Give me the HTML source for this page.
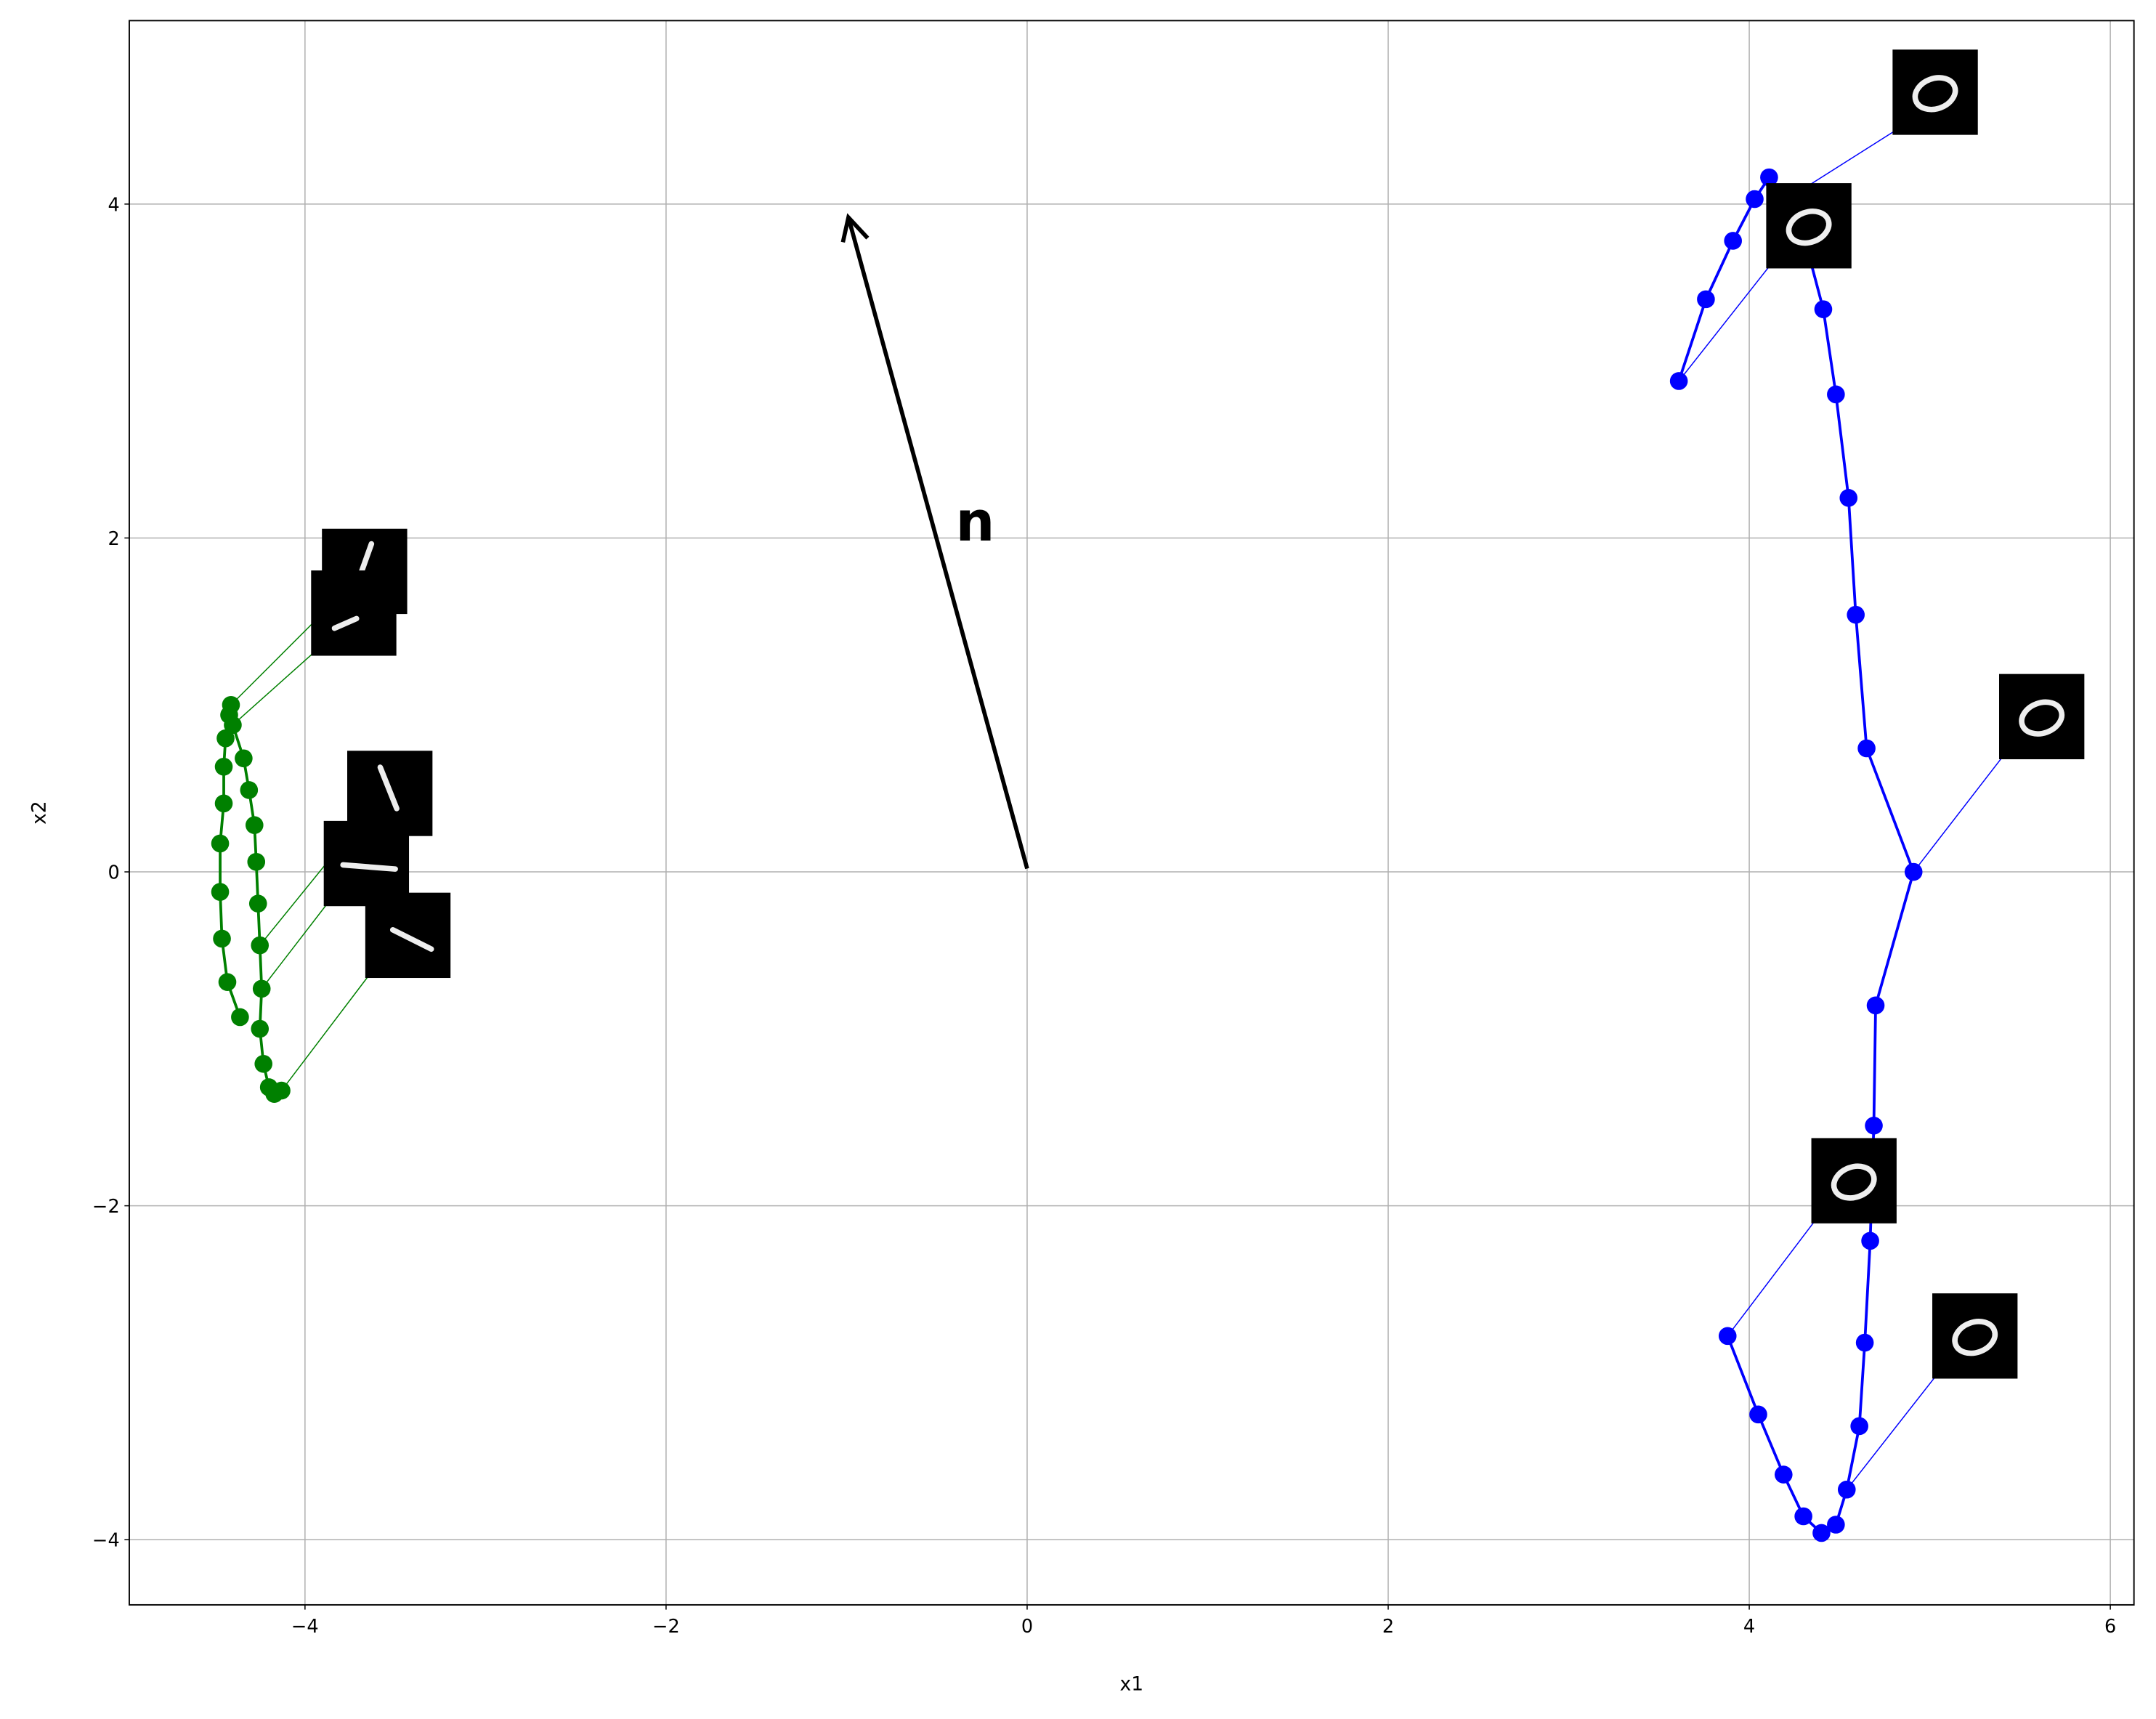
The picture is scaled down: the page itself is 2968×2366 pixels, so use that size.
<!DOCTYPE html>
<html><head><meta charset="utf-8"><style>html,body{margin:0;padding:0;background:#fff}svg{display:block}</style></head>
<body>
<svg id="chart" width="2968" height="2366" viewBox="0 0 1568 1250" xmlns="http://www.w3.org/2000/svg" font-family="'DejaVu Sans','Liberation Sans',sans-serif">
<g id="grid"></g>
<g id="links"></g>
<g id="series"></g>
<g id="thumbs"></g>
<g id="arrow"></g>
<g id="axes"></g>
</svg>
<script>
const xTicks=[-4,-2,0,2,4,6];
const yTicks=[-4,-2,0,2,4];
const xTickLabels=["\u22124","\u22122","0","2","4","6"];
const yTickLabels=["\u22124","\u22122","0","2","4"];
const blueX=[3.61,3.76,3.91,4.03,4.11,4.21,4.30,4.41,4.48,4.55,4.59,4.65,4.91,4.70,4.69,4.68,4.67,4.64,4.61,4.54,4.48,4.40,4.30,4.19,4.05,3.88];
const blueY=[2.94,3.43,3.78,4.03,4.16,4.03,3.82,3.37,2.86,2.24,1.54,0.74,0.00,-0.80,-1.52,-1.86,-2.21,-2.82,-3.32,-3.70,-3.91,-3.96,-3.86,-3.61,-3.25,-2.78];
const greenX=[-4.13,-4.17,-4.20,-4.23,-4.25,-4.24,-4.25,-4.26,-4.27,-4.28,-4.31,-4.34,-4.40,-4.41,-4.42,-4.44,-4.45,-4.45,-4.47,-4.47,-4.46,-4.43,-4.36];
const greenY=[-1.31,-1.33,-1.29,-1.15,-0.94,-0.70,-0.44,-0.19,0.06,0.28,0.49,0.68,0.88,1.00,0.94,0.80,0.63,0.41,0.17,-0.12,-0.40,-0.66,-0.87];
// thumbnails: center (data), linked point (data), glyph type
const thumbCX=[5.03,4.33,5.62,4.58,5.25,-3.67,-3.73,-3.53,-3.66,-3.43];
const thumbCY=[4.67,3.87,0.93,-1.85,-2.78,1.80,1.55,0.47,0.05,-0.38];
const linkX=[4.21,3.61,4.91,3.88,4.54,-4.41,-4.40,-4.25,-4.24,-4.13];
const linkY=[4.03,2.94,0.00,-2.78,-3.70,1.00,0.88,-0.44,-0.70,-1.31];
const thumbGlyph=["zero","zero","zero","zero","zero","up","low","down","flat","diag"];

const NS="http://www.w3.org/2000/svg";
const L=94,R=1552,T=15,B=1167;
const X=v=>747+v*131.3, Y=v=>634-v*121.4;
function el(tag,attrs,parent){const e=document.createElementNS(NS,tag);for(const k in attrs)e.setAttribute(k,attrs[k]);parent.appendChild(e);return e;}
const grid=document.getElementById('grid'),axes=document.getElementById('axes');
el('rect',{x:L,y:T,width:R-L,height:B-T,fill:'#fff'},grid);
xTicks.forEach((t,i)=>{
 const g=el('line',{x1:X(t),x2:X(t),y1:T,y2:B,stroke:'#b0b0b0','stroke-width':0.8},grid);
 
 
 el('line',{x1:X(t),x2:X(t),y1:B,y2:B+3.5,stroke:'#000','stroke-width':0.8},axes);
 const tx=el('text',{x:X(t),y:B+20,'font-size':13.5,'text-anchor':'middle'},axes);tx.textContent=xTickLabels[i];
 
 
});
yTicks.forEach((t,i)=>{
 const g=el('line',{x1:L,x2:R,y1:Y(t),y2:Y(t),stroke:'#b0b0b0','stroke-width':0.8},grid);
 
 
 el('line',{x1:L-3.5,x2:L,y1:Y(t),y2:Y(t),stroke:'#000','stroke-width':0.8},axes);
 const tx=el('text',{x:L-7,y:Y(t)+5,'font-size':13.5,'text-anchor':'end'},axes);tx.textContent=yTickLabels[i];
 
 
});
el('rect',{x:L,y:T,width:R-L,height:B-T,fill:'none',stroke:'#000','stroke-width':1},axes);
const xl=el('text',{x:(L+R)/2,y:1229,'font-size':14,'text-anchor':'middle'},axes);xl.textContent='x1';


const yl=el('text',{x:33,y:(T+B)/2,'font-size':14,'text-anchor':'middle',transform:`rotate(-90 33 ${(T+B)/2})`},axes);yl.textContent='x2';



// links
const links=document.getElementById('links');
thumbCX.forEach((cx,i)=>{
 const col=cx>0?'#0000ff':'#008000';
 const ln=el('line',{x1:X(linkX[i]),y1:Y(linkY[i]),x2:X(cx)-26,y2:Y(thumbCY[i])+26,stroke:col,'stroke-width':0.8},links);
 
 
});
// series
const series=document.getElementById('series');
function drawSeries(xs,ys,col,name){
 const p=el('polyline',{points:xs.map((x,i)=>X(x)+','+Y(ys[i])).join(' '),fill:'none',stroke:col,'stroke-width':2},series);
 
 
 xs.forEach((x,i)=>{const c=el('circle',{cx:X(x),cy:Y(ys[i]),r:6.5,fill:col},series);
  
  });
}
drawSeries(greenX,greenY,'#008000','green-series');
drawSeries(blueX,blueY,'#0000ff','blue-series');
// thumbnails
const thumbs=document.getElementById('thumbs');
thumbCX.forEach((cx,i)=>{
 const x0=X(cx)-31,y0=Y(thumbCY[i])-31;
 const g=el('g',{transform:`translate(${x0},${y0})`},thumbs);
 
 
 el('rect',{x:0,y:0,width:62,height:62,fill:'#000'},g);
 const s={stroke:'#eee','stroke-width':4,fill:'none','stroke-linecap':'round'};
 const gl=thumbGlyph[i];
 if(gl==='zero')el('ellipse',Object.assign({cx:31,cy:32,rx:15,ry:11,transform:'rotate(-20 31 32)'},s),g);
 else if(gl==='up')el('line',Object.assign({x1:26,y1:39,x2:36,y2:11},s),g);
 else if(gl==='low')el('line',Object.assign({x1:17,y1:42,x2:33,y2:35},s),g);
 else if(gl==='down')el('line',Object.assign({x1:24,y1:12,x2:36,y2:42},s),g);
 else if(gl==='flat')el('line',Object.assign({x1:14,y1:32,x2:52,y2:35},s),g);
 else el('line',Object.assign({x1:20,y1:27,x2:48,y2:41},s),g);
});
// arrow n
const ar=document.getElementById('arrow');
const ax0=X(0),ay0=Y(0.02),ax1=X(-0.99),ay1=Y(3.92);
el('line',{x1:ax0,y1:ay0,x2:ax1,y2:ay1,stroke:'#000','stroke-width':3},ar);
el('polyline',{points:`${ax1-4},${ay1+18} ${ax1},${ay1} ${ax1+14},${ay1+15}`,fill:'none',stroke:'#000','stroke-width':3},ar);
const nt=el('text',{x:695,y:393,'font-size':40,'font-weight':'bold'},ar);nt.textContent='n';


</script>
</body></html>
